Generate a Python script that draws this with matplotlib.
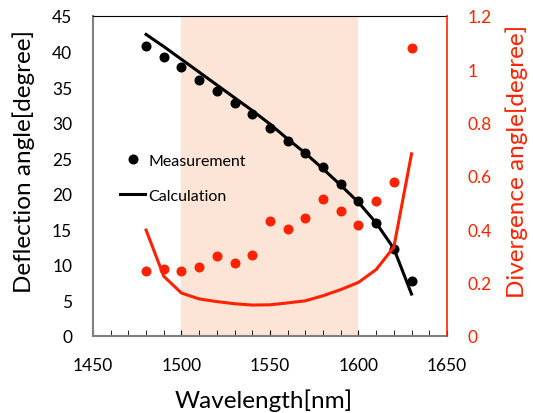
import matplotlib
matplotlib.use("Agg")
import matplotlib.pyplot as plt
from matplotlib.ticker import MultipleLocator, FuncFormatter

plt.rcParams['font.family'] = ['Lato', 'DejaVu Sans']

wl = [1480, 1490, 1500, 1510, 1520, 1530, 1540, 1550, 1560, 1570, 1580, 1590, 1600, 1610, 1620, 1630]
defl_meas = [40.8, 39.3, 37.8, 36.05, 34.5, 32.8, 31.2, 29.25, 27.35, 25.8, 23.7, 21.4, 18.95, 15.9, 12.3, 7.8]
defl_calc = [42.4, 40.7, 38.9, 37.1, 35.3, 33.5, 31.7, 29.8, 27.7, 25.7, 23.5, 21.2, 18.8, 15.9, 12.3, 5.9]
div_meas = [0.245, 0.251, 0.245, 0.259, 0.299, 0.273, 0.304, 0.431, 0.40, 0.442, 0.515, 0.469, 0.416, 0.505, 0.579, 1.079]
div_calc = [0.397, 0.224, 0.161, 0.139, 0.129, 0.121, 0.116, 0.117, 0.124, 0.132, 0.151, 0.174, 0.201, 0.249, 0.333, 0.683]
band = (1500, 1600)

RED = '#FF2200'
GRAY = '#7F7F7F'

fig = plt.figure(figsize=(5.33, 4.14), dpi=100)
ax = fig.add_axes([0.1745, 0.186, 0.664, 0.773])
ax.axvspan(band[0], band[1], color='#FCE4D6', zorder=0, lw=0)
ax.plot(wl, defl_calc, color='black', lw=2.2, label='Calculation', zorder=3)
ax.plot(wl, defl_meas, 'o', color='black', ms=6.2, label='Measurement', zorder=4)
ax.set_xlim(1450, 1650)
ax.set_ylim(0, 45)
ax.xaxis.set_major_locator(MultipleLocator(50))
ax.xaxis.set_minor_locator(MultipleLocator(10))
ax.yaxis.set_major_locator(MultipleLocator(5))
ax.tick_params(axis='x', which='both', direction='in', length=4, color='black', labelsize=12.5, pad=15)
ax.tick_params(axis='y', which='both', length=0, labelsize=12.5, pad=15)
ax.spines['left'].set_color(GRAY)
ax.spines['left'].set_linewidth(1.5)
ax.spines['bottom'].set_color(GRAY)
ax.spines['bottom'].set_linewidth(1.5)
ax.spines['top'].set_color('black')
ax.spines['right'].set_visible(False)

ax2 = ax.twinx()
ax2.plot(wl, div_calc, color=RED, lw=2.2, zorder=3)
ax2.plot(wl, div_meas, 'o', color=RED, ms=6.2, zorder=4)
ax2.set_ylim(0, 1.2)
ax2.yaxis.set_major_locator(MultipleLocator(0.2))
ax2.yaxis.set_major_formatter(FuncFormatter(lambda v, p: f'{v:g}'))
ax2.tick_params(axis='y', length=0, labelsize=12.5, labelcolor=RED, pad=15)
for s in ['left', 'bottom', 'top']:
    ax2.spines[s].set_visible(False)
ax2.spines['right'].set_color(RED)
ax2.spines['right'].set_linewidth(1.2)

fig.text(0.045, 0.609, 'Deflection angle[degree]', rotation=90, ha='center', va='center', fontsize=17.5)
fig.text(0.970, 0.609, 'Divergence angle[degree]', rotation=90, ha='center', va='center', fontsize=17.5, color=RED)
fig.text(0.495, 0.031, 'Wavelength[nm]', ha='center', va='center', fontsize=17.5)

h, l = ax.get_legend_handles_labels()
ax.legend(h[::-1], l[::-1], loc='upper left', bbox_to_anchor=(0.035, 0.615), frameon=False,
          fontsize=11.5, handlelength=1.6, handletextpad=0.2, labelspacing=1.3)

fig.savefig('out.png', dpi=100)
